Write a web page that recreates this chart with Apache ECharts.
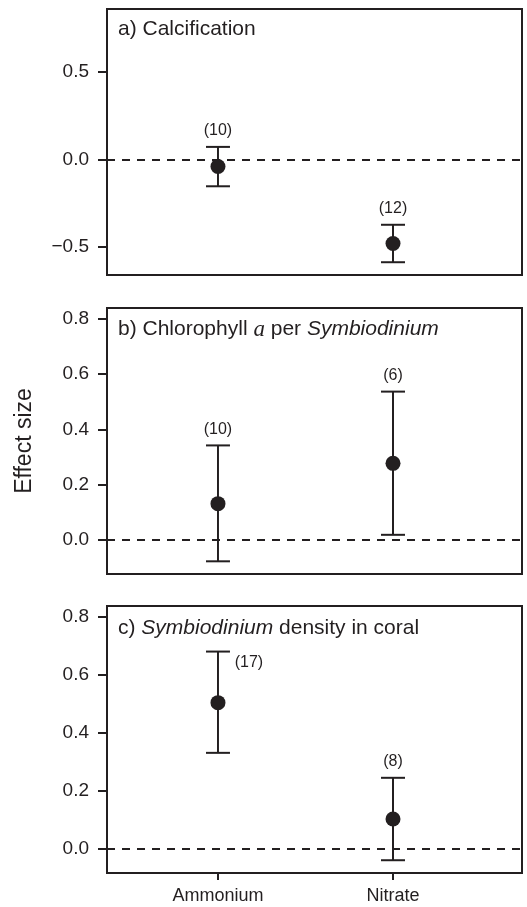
<!DOCTYPE html>
<html>
<head>
<meta charset="utf-8">
<script src="https://cdn.jsdelivr.net/npm/echarts@6/dist/echarts.min.js"></script>
<style>
  html, body { margin: 0; padding: 0; background: #fff; }
  #chart { width: 527px; height: 907px; }
</style>
</head>
<body>
<div id="chart"></div>
<script>
const categories = ["Ammonium", "Nitrate"];

const calcMean = [-0.04, -0.48];
const calcLow = [-0.153, -0.587];
const calcHigh = [0.072, -0.373];
const calcN = [10, 12];

const chlMean = [0.131, 0.277];
const chlLow = [-0.078, 0.018];
const chlHigh = [0.342, 0.537];
const chlN = [10, 6];

const densMean = [0.505, 0.104];
const densLow = [0.332, -0.038];
const densHigh = [0.681, 0.246];
const densN = [17, 8];

const ticksA = [-0.5, 0, 0.5];
const ticksBC = [0, 0.2, 0.4, 0.6, 0.8];

const ink = "#231f20";
const font = "Liberation Sans";

const panels = [
  { mean: calcMean, low: calcLow, high: calcHigh, n: calcN, ticks: ticksA, min: -0.66, max: 0.86,
    top: 9, height: 266, titleTop: 19, labelRight: [false, false],
    title: "{n|a) Calcification}" },
  { mean: chlMean, low: chlLow, high: chlHigh, n: chlN, ticks: ticksBC, min: -0.124, max: 0.84,
    top: 308, height: 266, titleTop: 318, labelRight: [false, false],
    title: "{n|b) Chlorophyll }{m|a}{n| per }{i|Symbiodinium}" },
  { mean: densMean, low: densLow, high: densHigh, n: densN, ticks: ticksBC, min: -0.082, max: 0.838,
    top: 606, height: 267, titleTop: 618, labelRight: [true, false],
    title: "{n|c) }{i|Symbiodinium}{n| density in coral}" },
];

const fmt = (v) => (v < 0 ? "\u2212" + Math.abs(v).toFixed(1) : v.toFixed(1));

const grid = [], xAxis = [], yAxis = [], series = [], title = [];

panels.forEach((p, i) => {
  const last = i === panels.length - 1;
  grid.push({ left: 107, right: 5, top: p.top, height: p.height, show: true,
    borderColor: ink, borderWidth: 2, backgroundColor: "transparent" });
  title.push({ text: p.title, left: 118, top: p.titleTop, padding: 0,
    textStyle: { fontFamily: font, fontSize: 21, fontWeight: "normal", color: ink,
      rich: {
        n: { fontFamily: font, fontSize: 21, color: ink },
        i: { fontFamily: font, fontSize: 21, fontStyle: "italic", color: ink },
        m: { fontFamily: "Liberation Serif", fontSize: 23, fontStyle: "italic", color: ink },
      } } });
  xAxis.push({ type: "value", gridIndex: i, min: 0.366, max: 2.737, position: "bottom",
    splitLine: { show: false },
    axisLine: { show: false, onZero: false },
    axisTick: { show: last, length: 7, customValues: [1, 2], lineStyle: { color: ink, width: 2 } },
    axisLabel: { show: last, customValues: [1, 2], margin: 14, fontFamily: font, fontSize: 18, color: ink,
      formatter: (v) => categories[Math.round(v) - 1] } });
  yAxis.push({ type: "value", gridIndex: i, min: p.min, max: p.max, position: "left",
    splitLine: { show: false },
    axisLine: { show: false, onZero: false },
    axisTick: { show: true, length: 9, customValues: p.ticks, lineStyle: { color: ink, width: 2 } },
    axisLabel: { customValues: p.ticks, margin: 18, fontFamily: font, fontSize: 19, color: ink, formatter: fmt } });

  const rows = categories.map((c, k) => [k + 1, p.mean[k], p.low[k], p.high[k], p.n[k], p.labelRight[k] ? 1 : 0]);

  series.push({
    type: "custom", xAxisIndex: i, yAxisIndex: i, data: rows, silent: true,
    renderItem: (params, api) => {
      const x = api.value(0);
      const lo = api.coord([x, api.value(2)]);
      const hi = api.coord([x, api.value(3)]);
      const cap = 12;
      const st = { stroke: ink, lineWidth: 2 };
      const right = api.value(5) === 1;
      return { type: "group", children: [
        { type: "line", shape: { x1: lo[0], y1: lo[1], x2: hi[0], y2: hi[1] }, style: st },
        { type: "line", shape: { x1: lo[0] - cap, y1: lo[1], x2: lo[0] + cap, y2: lo[1] }, style: st },
        { type: "line", shape: { x1: hi[0] - cap, y1: hi[1], x2: hi[0] + cap, y2: hi[1] }, style: st },
        { type: "text", x: right ? hi[0] + 31 : hi[0], y: right ? hi[1] + 11 : hi[1] - 16,
          style: { text: "(" + api.value(4) + ")", fill: ink, fontFamily: font, fontSize: 16,
            align: "center", verticalAlign: "middle" } },
      ] };
    },
  });
  series.push({
    type: "scatter", xAxisIndex: i, yAxisIndex: i, symbol: "circle", symbolSize: 15, silent: true,
    itemStyle: { color: ink, opacity: 1 },
    data: categories.map((c, k) => [k + 1, p.mean[k]]),
    markLine: { silent: true, symbol: "none", label: { show: false },
      lineStyle: { color: ink, width: 2, type: [8, 7] },
      data: [{ yAxis: 0 }] },
  });
});

const chart = echarts.init(document.getElementById("chart"), null, { renderer: "canvas" });
chart.setOption({
  animation: false,
  backgroundColor: "#fff",
  title, grid, xAxis, yAxis, series,
  graphic: [{ type: "text", x: 25, y: 441, rotation: Math.PI / 2,
    style: { text: "Effect size", fill: ink, fontFamily: font, fontSize: 23, align: "center", verticalAlign: "middle" } }],
});
</script>
</body>
</html>
